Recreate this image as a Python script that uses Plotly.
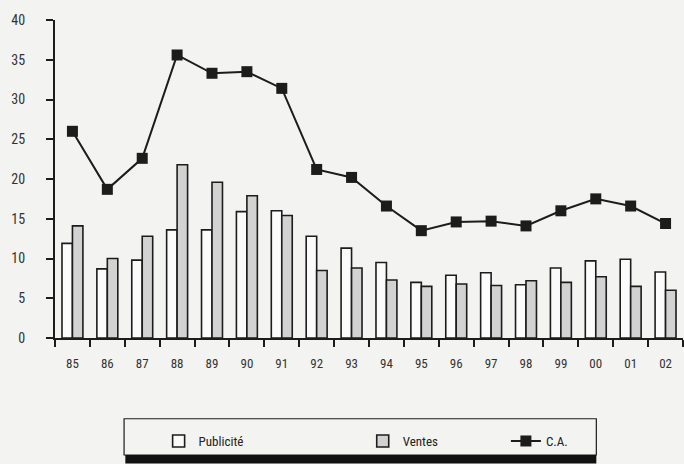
import plotly.graph_objects as go

years = ["85", "86", "87", "88", "89", "90", "91", "92", "93", "94",
         "95", "96", "97", "98", "99", "00", "01", "02"]
publicite = [11.9, 8.7, 9.8, 13.6, 13.6, 15.9, 16.0, 12.8, 11.3, 9.5,
             7.0, 7.9, 8.2, 6.7, 8.8, 9.7, 9.9, 8.3]
ventes = [14.1, 10.0, 12.8, 21.8, 19.6, 17.9, 15.4, 8.5, 8.8, 7.3,
          6.5, 6.8, 6.6, 7.2, 7.0, 7.7, 6.5, 6.0]
ca = [26.0, 18.7, 22.6, 35.6, 33.3, 33.5, 31.4, 21.2, 20.2, 16.6,
      13.5, 14.6, 14.7, 14.1, 16.0, 17.5, 16.6, 14.4]
y_ticks = [0, 5, 10, 15, 20, 25, 30, 35, 40]

FONT = "Liberation Sans Narrow, Roboto Condensed, DejaVu Sans Condensed, Liberation Sans, sans-serif"
BG = "#f3f3f1"
INK = "#1c1c1c"

fig = go.Figure()
fig.add_trace(go.Bar(
    x=years, y=publicite, name="Publicité",
    marker=dict(color="#fbfbfb", line=dict(color=INK, width=1.6)),
    legend="legend",
))
fig.add_trace(go.Bar(
    x=years, y=ventes, name="Ventes",
    marker=dict(color="#d2d2d2", line=dict(color=INK, width=1.6)),
    legend="legend2",
))
fig.add_trace(go.Scatter(
    x=years, y=ca, name="C.A.", mode="lines+markers",
    line=dict(color=INK, width=2),
    marker=dict(symbol="square", size=11, color=INK),
    legend="legend3",
))

leg_common = dict(bgcolor="rgba(0,0,0,0)", borderwidth=0,
                  font=dict(family=FONT, size=13, color="#222"),
                  yanchor="middle", xanchor="left", y=-0.324)

fig.update_layout(
    width=684, height=464,
    margin=dict(l=55, r=1, t=20, b=126),
    paper_bgcolor=BG, plot_bgcolor=BG,
    font=dict(family=FONT, size=13, color="#222"),
    barmode="group", bargap=0.4, bargroupgap=0,
    showlegend=True,
    legend=dict(x=0.165, **leg_common),
    legend2=dict(x=0.49, **leg_common),
    legend3=dict(x=0.718, **leg_common),
    xaxis=dict(
        type="category", range=[-0.5, 17.5],
        showline=True, linecolor=INK, linewidth=2,
        ticks="outside", tickson="boundaries", ticklen=7, tickwidth=2, tickcolor=INK,
        ticklabelstandoff=12,
        showgrid=False, zeroline=False,
        tickfont=dict(family=FONT, size=13, color="#333"),
    ),
    yaxis=dict(
        range=[0, 40], tickvals=y_ticks,
        showline=True, linecolor=INK, linewidth=2,
        ticks="outside", ticklen=7, tickwidth=2, tickcolor=INK,
        ticklabelstandoff=18,
        showgrid=False, zeroline=False,
        tickfont=dict(family=FONT, size=14, color="#333"),
    ),
    shapes=[
        dict(type="rect", xref="paper", yref="paper",
             x0=0.110, x1=0.862, y0=-0.368, y1=-0.254,
             line=dict(color=INK, width=1.2), fillcolor="rgba(0,0,0,0)", layer="below"),
        dict(type="rect", xref="paper", yref="paper",
             x0=0.112, x1=0.862, y0=-0.395, y1=-0.368,
             line=dict(width=0), fillcolor="#111"),
    ],
)

fig.write_html(
    "out.html",
    config={"displayModeBar": False},
    post_script="document.body.style.margin='0';document.body.style.background='" + BG + "';",
)
